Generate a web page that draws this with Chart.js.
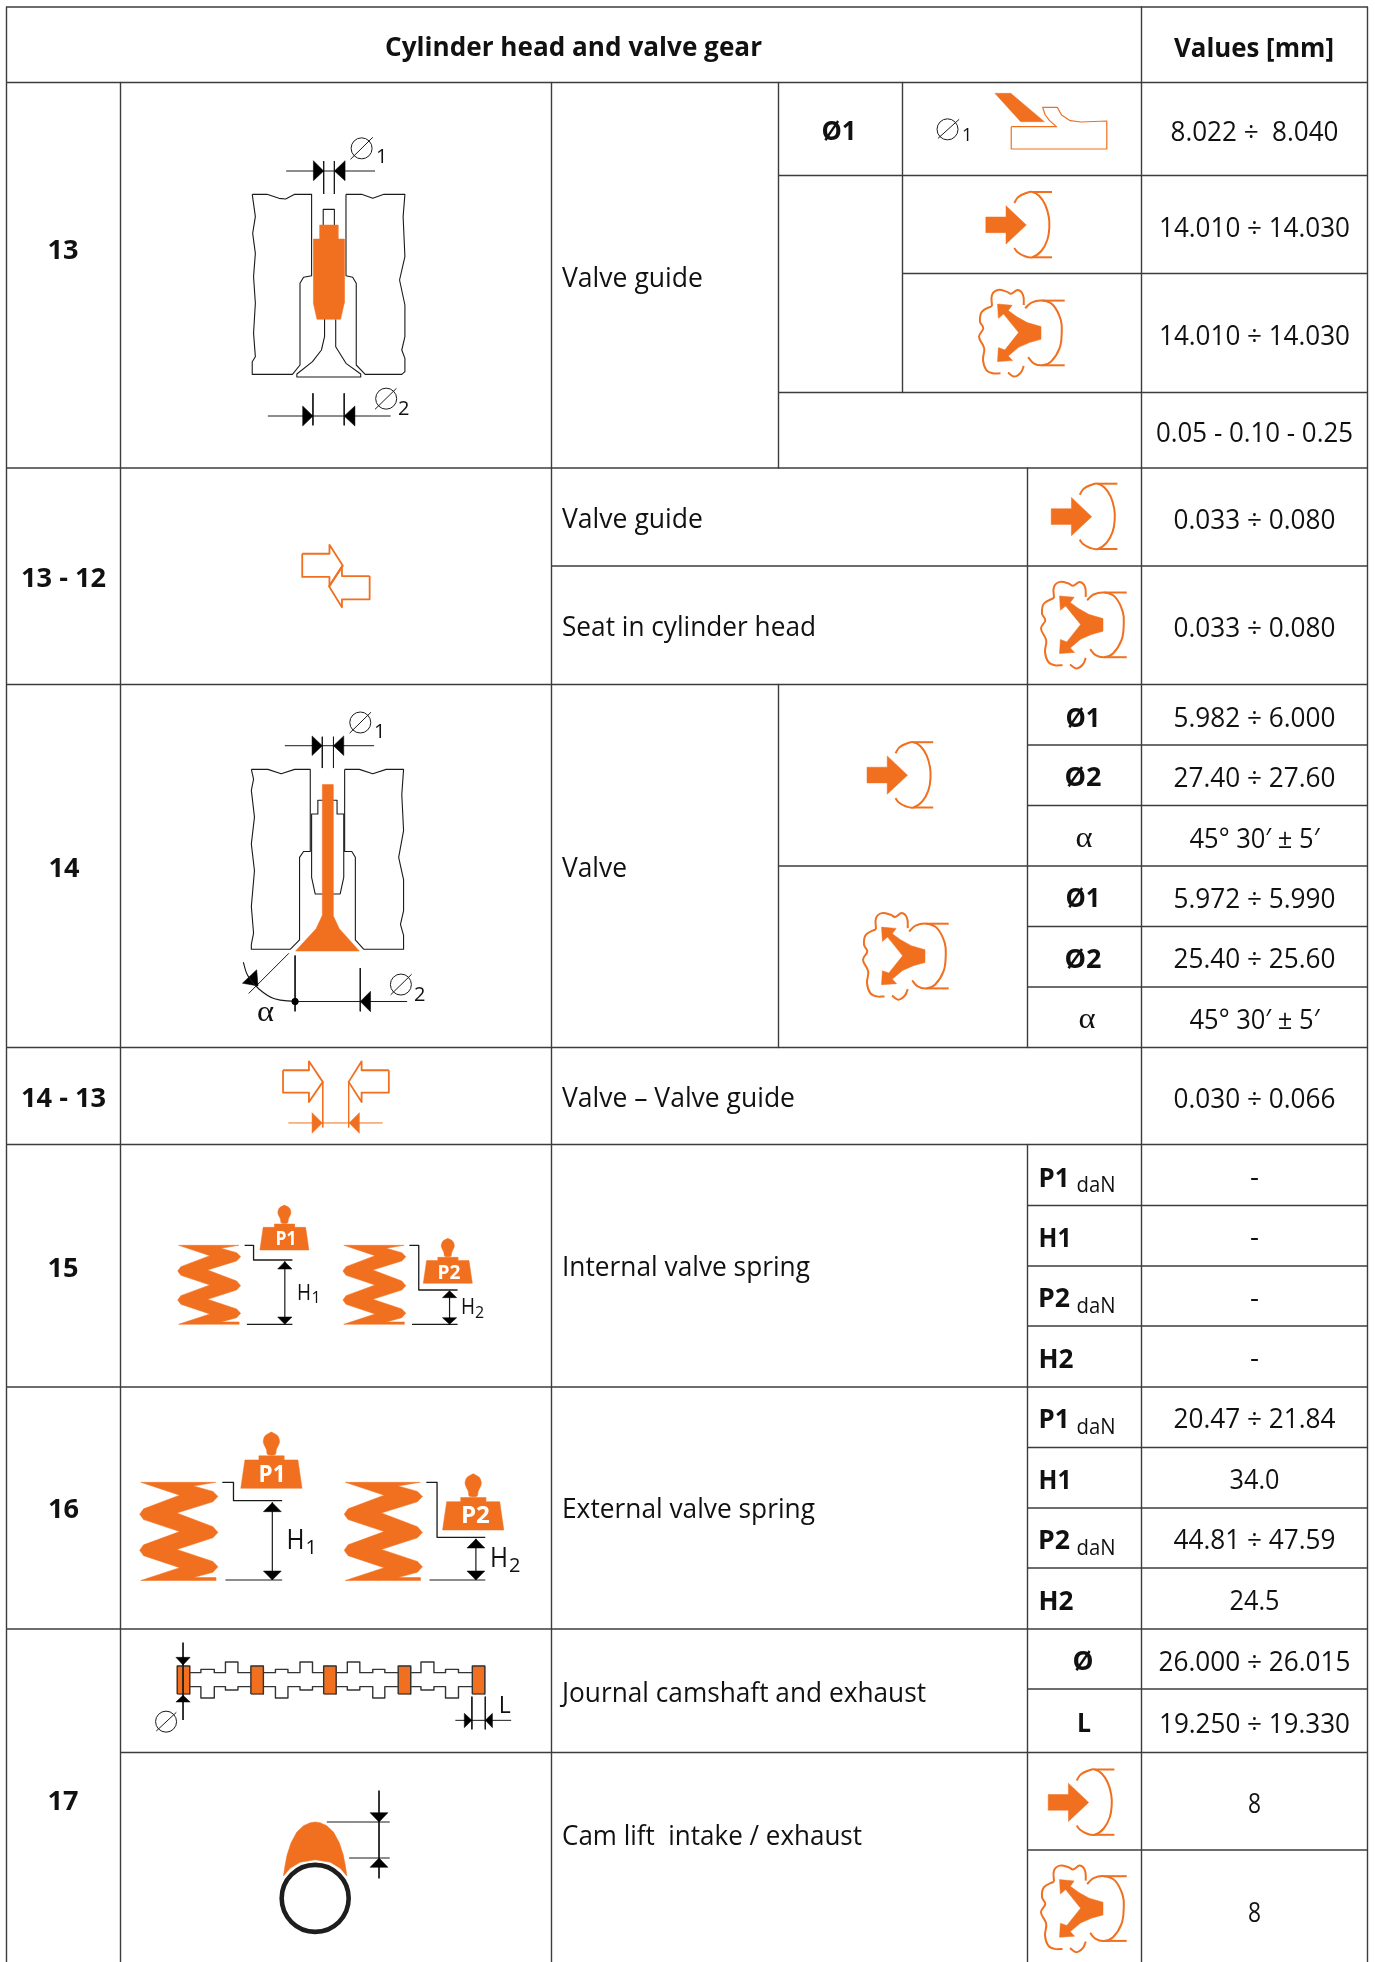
<!DOCTYPE html>
<html>
<head>
<meta charset="utf-8">
<title>Cylinder head and valve gear</title>
<script src="https://cdn.jsdelivr.net/npm/chart.js@4"></script>
<style>
body { margin: 0; background: #fff; }
canvas { display: block; }
</style>
</head>
<body>
<canvas id="sheet" width="1375" height="1962"></canvas>
<script>
"use strict";

// table text
var headers = ['Cylinder head and valve gear', 'Values [mm]'];
var rowIds = ['13', '13 - 12', '14', '14 - 13', '15', '16', '17'];
var partNames = ['Valve guide', 'Valve guide', 'Seat in cylinder head', 'Valve', 'Valve \u2013 Valve guide',
	'Internal valve spring', 'External valve spring', 'Journal camshaft and exhaust', 'Cam lift  intake / exhaust'];
var symbols = ['\u00d81', '\u00d81', '\u00d82', '\u00d81', '\u00d82', 'P1', 'H1', 'P2', 'H2', 'P1', 'H1', 'P2', 'H2', '\u00d8', 'L'];
var greek = ['\u03b1', '\u03b1', '\u03b1'];
var units = ['daN', 'daN', 'daN', 'daN'];
var values = ['8.022 \u00f7  8.040', '14.010 \u00f7 14.030', '14.010 \u00f7 14.030', '0.05 - 0.10 - 0.25',
	'0.033 \u00f7 0.080', '0.033 \u00f7 0.080', '5.982 \u00f7 6.000', '27.40 \u00f7 27.60', '45\u00b0 30\u2032 \u00b1 5\u2032',
	'5.972 \u00f7 5.990', '25.40 \u00f7 25.60', '45\u00b0 30\u2032 \u00b1 5\u2032', '0.030 \u00f7 0.066',
	'-', '-', '-', '-', '20.47 \u00f7 21.84', '34.0', '44.81 \u00f7 47.59', '24.5',
	'26.000 \u00f7 26.015', '19.250 \u00f7 19.330', '8', '8'];
var shaftLabel = ['L'];

// where each text sits: x, baseline y, width
var headerPos = [[573.5, 56, 377], [1254, 56.5, 160]];
var rowIdPos = [[63, 258.7, 31], [63.5, 587, 85], [64, 876.5, 31], [63.5, 1107, 85], [63, 1276.7, 31], [63.5, 1518, 31], [63, 1810, 31]];
var partPos = [[562, 286.7, 141], [562, 528.3, 141], [562, 636.3, 254], [562, 876.5, 65], [562, 1107, 233],
	[562, 1276, 248], [562, 1518, 253], [562, 1701.7, 364], [562, 1845, 300]];
var symbolPos = [[839, 140, 35], [1083, 726.5, 35], [1083, 786.3, 37], [1083, 907.3, 35], [1083, 968, 37],
	[1054, 1187, 31], [1055, 1246.7, 33], [1054, 1307, 32], [1056, 1368, 35],
	[1054, 1427.5, 31], [1055, 1488.5, 33], [1054, 1548.8, 32], [1056, 1610, 35], [1083, 1670, 21], [1084, 1732, 14]];
var greekPos = [[1084, 846.6, 17], [1087, 1028, 17], [265.4, 1020.7, 17]];
var unitPos = [[1096, 1192, 39], [1096, 1312.5, 39], [1096, 1434, 39], [1096, 1555, 39]];
var valuePos = [[140.5, 168], [236.5, 191], [344.5, 191], [442, 197], [528.8, 162], [636.8, 162], [726.5, 162], [786.5, 162], [847.5, 130],
	[907.5, 162], [968.2, 162], [1028.7, 130], [1107.5, 162],
	[1186, 9], [1246, 9], [1306.5, 9], [1366.7, 9], [1428, 162], [1488.8, 50], [1549, 162], [1610.3, 50],
	[1670.5, 192], [1732.5, 191], [1813, 13], [1921.5, 13]];
var valueCentre = 1254.5;
var shaftLabelPos = [[498.7, 1712.7, 24, 12]];

// table rules
var colEdges = [6.5, 120.5, 551.5, 778.5, 902.5, 1027.5, 1141.5, 1367.5];
var rowEdges = [7, 82.5, 175.5, 273.5, 392.5, 468, 566, 684.5, 745, 805.5, 866, 926.5, 987, 1047.5, 1144.5,
	1205.5, 1266, 1326, 1387, 1447.5, 1508, 1568, 1629, 1689, 1752.5, 1850];
// row edge index, first column, last column
var rowRules = [[0,0,7],[1,0,7],[2,3,7],[3,4,7],[4,3,7],[5,0,7],[6,2,7],[7,0,7],[8,5,7],[9,5,7],[10,3,7],[11,5,7],[12,5,7],[13,0,7],[14,0,7],
	[15,5,7],[16,5,7],[17,5,7],[18,0,7],[19,5,7],[20,5,7],[21,5,7],[22,0,7],[23,5,7],[24,1,7],[25,5,7]];
// column edge index, top, bottom
var colRules = [[0,7,1962],[1,82.5,1962],[2,82.5,1962],[3,82.5,468],[3,684.5,1047.5],[4,82.5,392.5],[5,468,1047.5],[5,1144.5,1962],[6,7,1962],[7,7,1962]];

// drawing outlines, each in the units of its own sketch
var intakeArrow = [-40.5,-8, -20.3,-8, -20.3,-19.3, 0,0, -20.3,19, -20.3,7.7, -40.5,7.7];
var intakeArc = [-12,-22, -8,-28, 0,-32, 6,-33, 13,-29, 19,-20, 22.5,-8, 23,3, 21,15, 15,26, 6,32.3, -2,31, -9,27, -12,23];
var intakeTop = [6,-33, 25.7,-33];
var intakeBottom = [6,32.3, 25.7,32.3];
var intakeSpots = [[1026.3,225],[1091.7,516.7],[907.5,775.2],[1088.7,1802.5]];

var exhaustArrow = [0,-6.7, -13.8,-10.7, -24.5,-16.7, -32.7,-22.7, -28.8,-28, -43.5,-29.3, -42.6,-15, -37.4,-19.3, -22.4,-0.7,
	-36.2,16.7, -42.6,14.3, -43.5,28.3, -28.4,27.3, -32.7,22.7, -22.4,14, -11.6,9.3, 0,6];
var exhaustArc = [-15.9,-25, -9.5,-30.7, 1.3,-32.7, 12,-28.3, 19.8,-13.3, 20.7,0, 18.5,15, 10,28.3, 1.3,32, -7.3,30, -12.9,24];
var exhaustTop = [1.3,-32.7, 23.7,-32.7];
var exhaustBottom = [1.3,32, 23.7,32];
var cloudUpper = [-49,-27.3, -49,-38.3, -43,-43.3, -34.4,-41.7, -30,-39.5, -23.2,-43.3, -18,-38.3, -17.2,-28.3];
var cloudLeft = [-49,-27.3, -59,-21.7, -61,-11.7, -57.7,-5, -62,3.3, -56.8,15, -58,26.7, -54.7,36.7, -48.2,40, -40.5,40];
var cloudLower = [-33,39.3, -26.7,43.3, -20.2,39.3, -17.2,32.7];
var exhaustSpots = [[1041,333.3],[1103,625.2],[925,956.4],[1103,1908.9]];

var insertCutter = [685,280, 722,280, 800,365, 745,365];
var insertSeat = [723,380, 828,380, 812,362, 802,345, 796,322, 830,322, 840,345, 860,362, 885,366, 945,363, 945,447, 723,447, 723,380];

var headLeft13 = [565,583, 598,583, 625,595, 640,597, 660,583, 698,583, 698,827, 680,832, 672,850, 672,1095, 655,1123, 565,1123, 565,1085,
	572,1070, 568,1000, 572,910, 568,830, 572,760, 566,700, 572,650, 565,583];
var headRight13 = [775,583, 810,583, 835,595, 860,583, 907,583, 903,650, 907,770, 895,840, 907,915, 907,1010, 900,1050, 907,1075, 907,1115,
	900,1123, 818,1123, 798,1095, 798,850, 790,832, 775,827, 775,583];
var stemTop13 = [724,675, 724,628, 749,628, 749,675];
var valve13 = [727,958, 727,1010, 720,1050, 700,1085, 665,1122, 665,1131, 808,1131, 808,1122, 775,1090, 752,1040, 752,958];
var guide13 = [716,675, 757,675, 757,717, 771,717, 771,910, 763,958, 710,958, 702,910, 702,717, 716,717];
var dims13 = [[641,513,840,513],[725,483,725,582],[749,483,749,582],[600,1248,875,1248],[701,1180,701,1276],[771,1180,771,1276]];
var heads13 = [[702,482,725,513,702,542],[773,482,749,513,773,542],[678,1218,701,1248,678,1278],[795,1218,771,1248,795,1278]];

var headLeft14 = [563,693, 600,693, 630,703, 660,693, 695,693, 695,877, 680,877, 671,890, 671,1075, 650,1096, 563,1096, 563,1085, 568,1060,
	563,1000, 570,920, 563,860, 570,800, 563,740, 568,715, 563,693];
var headRight14 = [772,693, 805,693, 835,703, 865,693, 904,693, 900,750, 904,830, 893,890, 904,940, 904,1010, 897,1040, 904,1065, 904,1096,
	815,1096, 796,1075, 796,890, 788,877, 772,877, 772,693];
var guide14 = [697,793, 712,793, 712,762, 755,762, 755,793, 770,793, 770,935, 762,972, 706,972, 698,935, 698,793];
var valve14 = [722,727, 746,727, 746,1020, 760,1050, 805,1100, 662,1100, 708,1050, 722,1020];
var dims14 = [[638,640,838,640],[722,620,722,690],[747,620,747,690],[661,1110,661,1235],[807,1138,807,1235],[661,1213,912,1213],[647,1105,557,1195]];
var heads14 = [[699,618,722,640,699,662],[770,618,747,640,770,662],[830,1190,807,1213,830,1236],[575,1142,578,1178,543,1172]];
var angleArc = [545,1125, 555,1155, 580,1185, 615,1207, 661,1213];

var fitArrows1312 = [[677,210, 738,210, 738,190, 768,237, 738,283, 738,262, 677,262, 677,210],
	[828,260, 766,260, 766,238, 737,283, 766,330, 766,312, 828,312, 828,260]];
var fitArrows1413 = [[634,1367, 692,1367, 692,1347, 723,1393, 692,1438, 692,1417, 634,1417, 634,1367],
	[871,1367, 810,1367, 810,1347, 781,1393, 810,1438, 810,1417, 871,1417, 871,1367]];
var fitDims1413 = [[723,1393,723,1495],[781,1393,781,1495],[646,1485,857,1485]];
var fitHeads1413 = [[699,1462,722,1485,699,1508],[805,1462,782,1485,805,1508]];

var springOutline = [400,316, 535,316, 495,325, 530,338, 539,350, 530,363, 465,390, 530,423, 539,437, 530,450, 465,478, 530,507, 539,520, 530,533,
	495,546, 535,546, 535,553, 400,553, 470,522, 405,493, 398,480, 405,467, 470,435, 405,406, 398,393, 405,380, 470,347];
// x, y, scale
var springSpots = [[177.7,1245.3,1],[342.9,1245.3,1],[139.7,1482.3,1.243],[344.2,1482.3,1.243]];

var weightBody = [-21.2,-22.7, -10,-22.7, -10,-26, 10,-26, 10,-22.7, 21.2,-22.7, 24.5,0, -24.5,0];
var weightKnob = [0,-45, 5,-42, 6.5,-37, 4,-31, 3,-27, -3,-27, -4,-31, -6.5,-37, -5,-42, 0,-45];
var weightSpots = [[284.4,1250,1],[447.8,1283.3,1],[271.4,1488.3,1.25],[473.2,1530,1.25]];
var weightLabels = ['P1', 'P2', 'P1', 'P2'];
var weightLabelPos = [[286,1245.3,19,21],[449,1278.7,19,23],[272,1482.3,24,27],[475.4,1523.3,24,29]];

var leaders = [[548,316, 568,316, 568,360, 655,360],[917,316, 938,316, 938,450, 1025,450],[498,1027, 523,1027, 523,1082, 632,1082],[955,1027, 979,1027, 979,1192, 1087,1192]];
var springDims = [[553,553,655,553],[638,365,638,550],[923,553,1025,553],[1007,455,1007,550],[505,1320,632,1320],[610,1088,610,1318],[962,1320,1087,1320],[1066,1197,1066,1318]];
var springHeads = [[622,387,654,387,638,365],[622,531,654,531,638,553],[991,473,1023,473,1007,452],[991,533,1023,533,1007,553],
	[590,1115,630,1115,610,1088],[590,1293,630,1293,610,1320],[1046,1224,1086,1224,1066,1197],[1046,1293,1086,1293,1066,1320]];
var springLabels = [['H','1'],['H','2'],['H','1'],['H','2']];
// H left, H baseline, H size, H width, index left, index baseline, index size
var springLabelPos = [[297,1300,22,14,311.5,1303,16],[461,1314.3,22,14,475,1317.7,16],[286.5,1548.7,27,18,305.5,1554.3,20],[490,1566.7,27,18,509,1572.3,20]];

var journalXs = [397, 562, 725, 892, 1058];
var journalTop = 138, journalBottom = 222;
var shaftUpper = [[425,158, 450,158, 450,148, 480,148, 480,158, 505,158, 505,126, 533,126, 533,158, 562,158],
	[590,158, 617,158, 617,148, 645,148, 645,158, 672,158, 672,126, 700,126, 700,158, 725,158],
	[753,158, 778,158, 778,126, 806,126, 806,158, 835,158, 835,148, 862,148, 862,158, 892,158],
	[920,158, 943,158, 943,126, 972,126, 972,158, 998,158, 998,148, 1027,148, 1027,158, 1058,158]];
var shaftLower = [[425,200, 450,200, 450,234, 480,234, 480,200, 505,200, 505,210, 533,210, 533,200, 562,200],
	[590,200, 617,200, 617,234, 645,234, 645,200, 672,200, 672,210, 700,210, 700,200, 725,200],
	[753,200, 778,200, 778,210, 806,210, 806,200, 835,200, 835,234, 862,234, 862,200, 892,200],
	[920,200, 943,200, 943,210, 972,210, 972,200, 998,200, 998,234, 1027,234, 1027,200, 1058,200]];
var shaftDims = [[410,68,410,300],[1057,230,1057,328],[1087,230,1087,328],[1020,301,1145,301]];
var shaftHeads = [[394,112,426,112,410,135],[394,246,426,246,410,226],[1040,280,1057,301,1040,323],[1103,280,1087,301,1103,323]];
var camLobe = [635,768, 638,740, 643,705, 652,668, 665,636, 680,617, 695,608, 706,606, 717,608, 732,617, 747,636, 760,668, 769,705, 774,740, 777,768,
	762,745, 740,727, 706,719, 672,727, 650,745];
var camDims = [[849,512,849,775],[732,606,873,606],[782,714,873,714]];
var camHeads = [[829,578,869,578,849,606],[829,742,869,742,849,714]];

// diameter marks: centre x, centre y, slash from and to, in sketch units
var diaMarks13 = [[810,445,785,478,835,412],[865,1196,840,1228,888,1165]];
var diaMarks14 = [[807,588,783,612,831,565],[898,1175,875,1198,922,1152]];
var diaMarkShaft = [[372,305,350,333,395,277]];
var diaMarkCell = [[575,388,553,415,602,358]];
var diaIndex = ['1', '2', '1', '2', '1'];
var diaIndexPos = [[376,162.7,20],[398,415,20],[374,737.7,20],[414,1000.6,20],[962,141,18]];

var ORANGE = '#f07020';
var INK = '#1a1a1a';
var RULE = '#3c3c3c';

// sketch frames: scale and offset from sketch units to sheet units
var frame13 = {sx: 1/2.24, sy: 1/3, ox: 0, oy: 0};
var frame14 = {sx: 1/2.24, sy: 1/2.24, ox: 0, oy: 460};
var frameSpring = {sx: 1/2.24, sy: 1/3, ox: 0, oy: 1140};
var frameCam = {sx: 1/2.24, sy: 1/3, ox: 0, oy: 1620};
var frameCell = {sx: 1/2.323, sy: 1/3, ox: 700, oy: 0};

var datasets = [];

function toPoints(flat, f){
	var pts = [];
	for (var i = 0; i < flat.length; i += 2) {
		pts.push({x: flat[i] * f.sx + f.ox, y: flat[i + 1] * f.sy + f.oy});
	}
	return pts;
}

function addLine(flat, f, color, width, tension){
	datasets.push({
		data: toPoints(flat, f),
		showLine: true,
		fill: false,
		borderColor: color,
		borderWidth: width,
		pointRadius: 0,
		tension: tension || 0,
		borderJoinStyle: 'round',
		order: -datasets.length
	});
}

function addSolid(flat, f, color, tension){
	var closed = flat.concat([flat[0], flat[1]]);
	datasets.push({
		data: toPoints(closed, f),
		showLine: true,
		fill: 'shape',
		backgroundColor: color,
		borderColor: color,
		borderWidth: 0.5,
		pointRadius: 0,
		tension: tension || 0,
		order: -datasets.length
	});
}

function addRing(x, y, f, radius, width, color){
	datasets.push({
		data: toPoints([x, y], f),
		showLine: false,
		backgroundColor: 'rgba(0,0,0,0)',
		borderColor: color,
		pointRadius: radius,
		pointBorderWidth: width,
		pointBackgroundColor: 'rgba(0,0,0,0)',
		pointBorderColor: color,
		order: -datasets.length
	});
}

function addDia(marks, f){
	marks.forEach(function(m){
		addRing(m[0], m[1], f, 10.5, 1, INK);
		addLine([m[2], m[3], m[4], m[5]], f, INK, 1, 0);
	});
}

function buildRules(){
	var unit = {sx: 1, sy: 1, ox: 0, oy: 0};
	rowRules.forEach(function(r){
		addLine([colEdges[r[1]], rowEdges[r[0]], colEdges[r[2]], rowEdges[r[0]]], unit, RULE, 1.4, 0);
	});
	colRules.forEach(function(c){
		addLine([colEdges[c[0]], c[1], colEdges[c[0]], c[2]], unit, RULE, 1.4, 0);
	});
}

function buildIcons(){
	intakeSpots.forEach(function(s){
		var f = {sx: 1, sy: 1, ox: s[0], oy: s[1]};
		addSolid(intakeArrow, f, ORANGE);
		addLine(intakeArc, f, ORANGE, 2, 0.4);
		addLine(intakeTop, f, ORANGE, 2);
		addLine(intakeBottom, f, ORANGE, 2);
	});
	exhaustSpots.forEach(function(s){
		var f = {sx: 1, sy: 1, ox: s[0], oy: s[1]};
		addSolid(exhaustArrow, f, ORANGE);
		addLine(exhaustArc, f, ORANGE, 2, 0.4);
		addLine(exhaustTop, f, ORANGE, 2);
		addLine(exhaustBottom, f, ORANGE, 2);
		addLine(cloudUpper, f, ORANGE, 2, 0.4);
		addLine(cloudLeft, f, ORANGE, 2, 0.4);
		addLine(cloudLower, f, ORANGE, 2, 0.4);
	});
	addSolid(insertCutter, frameCell, ORANGE);
	addLine(insertSeat, frameCell, ORANGE, 1.2);
	addDia(diaMarkCell, frameCell);
}

function buildValves(){
	[headLeft13, headRight13, stemTop13, valve13].forEach(function(o){
		addLine(o, frame13, INK, 1.1);
	});
	addSolid(guide13, frame13, ORANGE);
	dims13.forEach(function(d){ addLine(d, frame13, INK, 1); });
	heads13.forEach(function(h){ addSolid(h, frame13, '#000'); });
	addDia(diaMarks13, frame13);

	[headLeft14, headRight14, guide14].forEach(function(o){
		addLine(o, frame14, INK, 1.1);
	});
	addSolid(valve14, frame14, ORANGE);
	dims14.forEach(function(d){ addLine(d, frame14, INK, 1); });
	heads14.forEach(function(h){ addSolid(h, frame14, '#000'); });
	addLine(angleArc, frame14, INK, 1.1, 0.4);
	addRing(661, 1213, frame14, 3.2, 1, '#000');
	datasets[datasets.length - 1].pointBackgroundColor = '#000';
	addDia(diaMarks14, frame14);

	fitArrows1312.forEach(function(a){ addLine(a, frame14, ORANGE, 1.8); });
	fitArrows1413.forEach(function(a){ addLine(a, frame14, ORANGE, 1.8); });
	fitDims1413.forEach(function(d){ addLine(d, frame14, ORANGE, 1); });
	fitHeads1413.forEach(function(h){ addSolid(h, frame14, ORANGE); });
}

function buildSprings(){
	springSpots.forEach(function(s){
		var sx = s[2] / 2.24, sy = s[2] / 3;
		addSolid(springOutline, {sx: sx, sy: sy, ox: s[0] - 398 * sx, oy: s[1] - 316 * sy}, ORANGE);
	});
	weightSpots.forEach(function(s){
		var f = {sx: s[2], sy: s[2], ox: s[0], oy: s[1]};
		addSolid(weightBody, f, ORANGE);
		addSolid(weightKnob, f, ORANGE, 0.3);
	});
	leaders.forEach(function(l){ addLine(l, frameSpring, INK, 1.3); });
	springDims.forEach(function(d){ addLine(d, frameSpring, INK, 1.2); });
	springHeads.forEach(function(h){ addSolid(h, frameSpring, '#000'); });
}

function buildCamshaft(){
	shaftUpper.concat(shaftLower).forEach(function(p){ addLine(p, frameCam, '#333', 1.4); });
	journalXs.forEach(function(x){
		addSolid([x, journalTop, x + 28, journalTop, x + 28, journalBottom, x, journalBottom], frameCam, ORANGE);
		addLine([x, journalBottom, x, journalTop, x + 28, journalTop, x + 28, journalBottom], frameCam, '#333', 1.4);
		addLine([x, journalBottom, x + 28, journalBottom], frameCam, '#333', 1.2);
	});
	shaftDims.forEach(function(d){ addLine(d, frameCam, INK, 1); });
	shaftHeads.forEach(function(h){ addSolid(h, frameCam, '#000'); });
	addDia(diaMarkShaft, frameCam);
	addSolid(camLobe, frameCam, ORANGE);
	addRing(706, 835, frameCam, 33.5, 4.6, '#1e1e1e');
	camDims.forEach(function(d){ addLine(d, frameCam, INK, 1); });
	camHeads.forEach(function(h){ addSolid(h, frameCam, '#000'); });
}

buildRules();
buildIcons();
buildValves();
buildSprings();
buildCamshaft();

function drawText(chart, text, x, y, size, width, opt){
	var ctx = chart.ctx;
	opt = opt || {};
	var px = chart.scales.x.getPixelForValue(x);
	var py = chart.scales.y.getPixelForValue(y);
	ctx.save();
	ctx.font = (opt.bold ? 'bold ' : '') + size + 'px ' + (opt.family || '"Open Sans"');
	ctx.fillStyle = opt.color || '#111';
	ctx.textBaseline = 'alphabetic';
	ctx.textAlign = 'left';
	var natural = ctx.measureText(text).width;
	var sx = width ? width / natural : 1;
	var w = natural * sx;
	ctx.translate(opt.left ? px : px - w / 2, py);
	ctx.scale(sx, 1);
	ctx.fillText(text, 0, 0);
	ctx.restore();
}

var tableText = {
	id: 'tableText',
	afterDatasetsDraw: function(chart){
		headers.forEach(function(t, i){
			drawText(chart, t, headerPos[i][0], headerPos[i][1], 27, headerPos[i][2], {bold: true});
		});
		rowIds.forEach(function(t, i){
			drawText(chart, t, rowIdPos[i][0], rowIdPos[i][1], 26.5, rowIdPos[i][2], {bold: true});
		});
		partNames.forEach(function(t, i){
			drawText(chart, t, partPos[i][0], partPos[i][1], 27.5, partPos[i][2], {left: true});
		});
		symbols.forEach(function(t, i){
			drawText(chart, t, symbolPos[i][0], symbolPos[i][1], 26.5, symbolPos[i][2], {bold: true});
		});
		greek.forEach(function(t, i){
			drawText(chart, t, greekPos[i][0], greekPos[i][1], 30, greekPos[i][2], {family: '"Liberation Serif"'});
		});
		units.forEach(function(t, i){
			drawText(chart, t, unitPos[i][0], unitPos[i][1], 21, unitPos[i][2]);
		});
		values.forEach(function(t, i){
			drawText(chart, t, valueCentre, valuePos[i][0], 27.5, valuePos[i][1]);
		});
		weightLabels.forEach(function(t, i){
			var p = weightLabelPos[i];
			drawText(chart, t, p[0], p[1], p[2], p[3], {bold: true, color: '#fff'});
		});
		springLabels.forEach(function(t, i){
			var p = springLabelPos[i];
			drawText(chart, t[0], p[0], p[1], p[2], p[3], {left: true});
			drawText(chart, t[1], p[4], p[5], p[6], 0, {left: true});
		});
		diaIndex.forEach(function(t, i){
			drawText(chart, t, diaIndexPos[i][0], diaIndexPos[i][1], diaIndexPos[i][2], 0, {left: true});
		});
		shaftLabel.forEach(function(t, i){
			var p = shaftLabelPos[i];
			drawText(chart, t, p[0], p[1], p[2], p[3], {left: true});
		});
	}
};

new Chart(document.getElementById('sheet'), {
	type: 'scatter',
	data: {datasets: datasets},
	options: {
		responsive: false,
		animation: false,
		layout: {padding: 0, autoPadding: false},
		plugins: {legend: {display: false}, tooltip: {enabled: false}, title: {display: false}},
		scales: {
			x: {type: 'linear', min: 0, max: 1375, display: false},
			y: {type: 'linear', min: 0, max: 1962, reverse: true, display: false}
		}
	},
	plugins: [tableText]
});
</script>
</body>
</html>
